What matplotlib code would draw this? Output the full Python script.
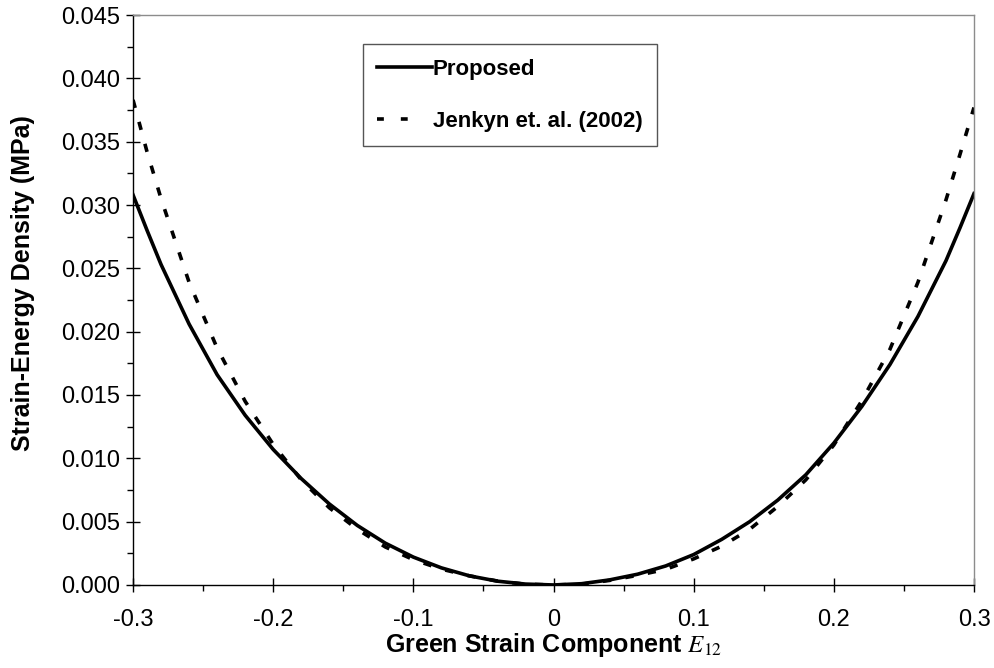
import numpy as np
import matplotlib
matplotlib.use("Agg")
import matplotlib.pyplot as plt
from matplotlib.ticker import MultipleLocator

plt.rcParams["font.family"] = ["Liberation Sans", "DejaVu Sans"]
plt.rcParams["mathtext.fontset"] = "stix"
plt.rcParams["axes.unicode_minus"] = False

# Strain-energy density vs shear strain E12 (MPa)
strain = [-0.30, -0.29, -0.28, -0.26, -0.24, -0.22, -0.20, -0.18, -0.16, -0.14,
          -0.12, -0.10, -0.08, -0.06, -0.04, -0.02, 0.00, 0.02, 0.04, 0.06,
          0.08, 0.10, 0.12, 0.14, 0.16, 0.18, 0.20, 0.22, 0.24, 0.26,
          0.28, 0.29, 0.30]

proposed = [0.0308, 0.0280, 0.0253, 0.0206, 0.0166, 0.0134, 0.0107, 0.0084, 0.0064, 0.0047,
            0.0033, 0.0022, 0.00135, 0.00072, 0.00030, 0.00007, 0.0, 0.00010, 0.00040, 0.00085,
            0.0015, 0.0024, 0.0036, 0.0050, 0.0067, 0.0087, 0.0112, 0.0141, 0.0174, 0.0212,
            0.0256, 0.0282, 0.0309]

jenkyn = [0.0383, 0.0342, 0.0305, 0.0239, 0.0187, 0.0145, 0.0111, 0.0083, 0.0061, 0.0044,
          0.0030, 0.0020, 0.00125, 0.00072, 0.00031, 0.00006, 0.0, 0.00006, 0.00036, 0.00076,
          0.00123, 0.00206, 0.00306, 0.0044, 0.0062, 0.0083, 0.01105, 0.01455, 0.0186, 0.0239,
          0.0304, 0.0340, 0.0377]

xticks = [-0.3, -0.2, -0.1, 0.0, 0.1, 0.2, 0.3]
xtick_labels = ["-0.3", "-0.2", "-0.1", "0", "0.1", "0.2", "0.3"]
yticks = [0.000, 0.005, 0.010, 0.015, 0.020, 0.025, 0.030, 0.035, 0.040, 0.045]
ytick_labels = [f"{v:.3f}" for v in yticks]

fig = plt.figure(figsize=(9.95, 6.68), dpi=100)
ax = fig.add_axes([0.1337, 0.1243, 0.8452, 0.8532])

ax.plot(strain, proposed, color="black", lw=2.6, label="Proposed")
ax.plot(strain, jenkyn, color="black", lw=2.6, dashes=(2.3, 4.0), label="Jenkyn et. al. (2002)")

ax.set_xlim(-0.3, 0.3)
ax.set_ylim(0, 0.045)
ax.set_xticks(xticks)
ax.set_xticklabels(xtick_labels)
ax.set_yticks(yticks)
ax.set_yticklabels(ytick_labels)
ax.xaxis.set_minor_locator(MultipleLocator(0.05))
ax.yaxis.set_minor_locator(MultipleLocator(0.0025))

ax.tick_params(which="major", direction="inout", length=10, width=1, labelsize=17, color="black")
ax.tick_params(axis="x", which="major", pad=12)
ax.tick_params(axis="y", which="major", pad=4)
ax.tick_params(which="minor", direction="out", length=4.5, width=1, color="black")
ax.tick_params(top=False, right=False, which="both")

for side in ["left", "bottom"]:
    ax.spines[side].set_color("black")
    ax.spines[side].set_linewidth(1.0)
for side in ["top", "right"]:
    ax.spines[side].set_color("#8c8c8c")
    ax.spines[side].set_linewidth(1.0)

ax.set_ylabel("Strain-Energy Density (MPa)", fontsize=18, fontweight="bold")
ax.yaxis.set_label_coords(-0.117, 0.53)
ax.set_xlabel(r"Green Strain Component $E_{12}$", fontsize=18, fontweight="bold", labelpad=0)

leg = ax.legend(loc="upper left", bbox_to_anchor=(0.273, 0.9486), borderaxespad=0,
                fancybox=False, frameon=True, edgecolor="#555555", framealpha=1,
                prop={"weight": "bold", "size": 16}, handlelength=2.45, handletextpad=0.05,
                labelspacing=1.38, borderpad=0.66)
leg.get_frame().set_linewidth(1.0)
leg.legend_handles[1].set_dashes((1.9, 4.7, 1.9, 20))

fig.savefig("out.png", dpi=100)
